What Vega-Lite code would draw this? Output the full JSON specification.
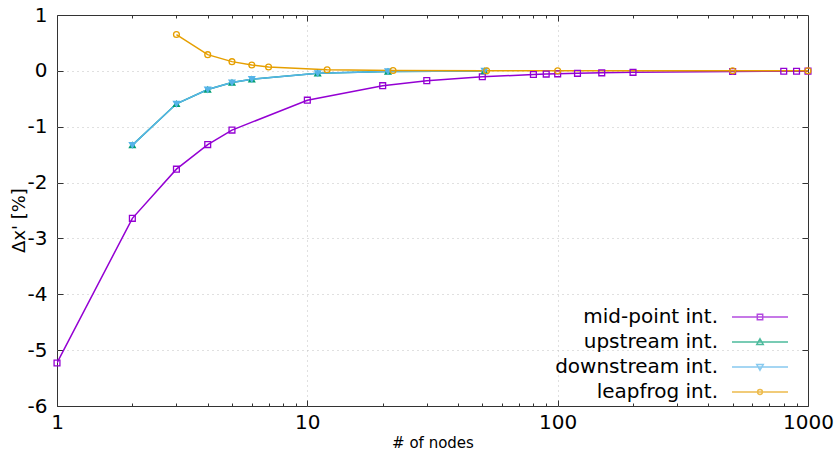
{
  "$schema": "https://vega.github.io/schema/vega-lite/v6.json",
  "width": 751,
  "height": 391,
  "autosize": {"type": "none"},
  "padding": {"left": 57, "top": 15, "right": 28, "bottom": 44},
  "background": "white",
  "config": {
    "font": "DejaVu Sans",
    "view": {"stroke": "#333333", "strokeWidth": 1},
    "axis": {
      "domain": false,
      "tickColor": "#333333",
      "tickWidth": 1,
      "labelColor": "#000000",
      "labelFontSize": 20,
      "labelFont": "DejaVu Sans",
      "titleColor": "#000000",
      "titleFont": "DejaVu Sans",
      "titleFontWeight": "normal",
      "gridColor": "#c0c0c0",
      "gridDash": [1, 4],
      "gridWidth": 1
    }
  },
  "data": {
    "values": [
      {"method": "mid-point int.", "n": 1, "dx": -5.23},
      {"method": "mid-point int.", "n": 2, "dx": -2.64},
      {"method": "mid-point int.", "n": 3, "dx": -1.76},
      {"method": "mid-point int.", "n": 4, "dx": -1.32},
      {"method": "mid-point int.", "n": 5, "dx": -1.06},
      {"method": "mid-point int.", "n": 10, "dx": -0.525},
      {"method": "mid-point int.", "n": 20, "dx": -0.265},
      {"method": "mid-point int.", "n": 30, "dx": -0.175},
      {"method": "mid-point int.", "n": 50, "dx": -0.105},
      {"method": "mid-point int.", "n": 80, "dx": -0.066},
      {"method": "mid-point int.", "n": 90, "dx": -0.058},
      {"method": "mid-point int.", "n": 100, "dx": -0.053},
      {"method": "mid-point int.", "n": 120, "dx": -0.044},
      {"method": "mid-point int.", "n": 150, "dx": -0.035},
      {"method": "mid-point int.", "n": 200, "dx": -0.026},
      {"method": "mid-point int.", "n": 500, "dx": -0.011},
      {"method": "mid-point int.", "n": 800, "dx": -0.007},
      {"method": "mid-point int.", "n": 900, "dx": -0.006},
      {"method": "mid-point int.", "n": 1000, "dx": -0.005},
      {"method": "upstream int.", "n": 2, "dx": -1.33},
      {"method": "upstream int.", "n": 3, "dx": -0.59},
      {"method": "upstream int.", "n": 4, "dx": -0.335},
      {"method": "upstream int.", "n": 5, "dx": -0.21},
      {"method": "upstream int.", "n": 6, "dx": -0.15},
      {"method": "upstream int.", "n": 11, "dx": -0.044},
      {"method": "upstream int.", "n": 21, "dx": -0.012},
      {"method": "upstream int.", "n": 51, "dx": -0.002},
      {"method": "downstream int.", "n": 2, "dx": -1.33},
      {"method": "downstream int.", "n": 3, "dx": -0.59},
      {"method": "downstream int.", "n": 4, "dx": -0.335},
      {"method": "downstream int.", "n": 5, "dx": -0.21},
      {"method": "downstream int.", "n": 6, "dx": -0.15},
      {"method": "downstream int.", "n": 11, "dx": -0.044},
      {"method": "downstream int.", "n": 21, "dx": -0.012},
      {"method": "downstream int.", "n": 51, "dx": -0.002},
      {"method": "leapfrog int.", "n": 3, "dx": 0.65},
      {"method": "leapfrog int.", "n": 4, "dx": 0.29},
      {"method": "leapfrog int.", "n": 5, "dx": 0.165},
      {"method": "leapfrog int.", "n": 6, "dx": 0.105},
      {"method": "leapfrog int.", "n": 7, "dx": 0.07},
      {"method": "leapfrog int.", "n": 12, "dx": 0.02},
      {"method": "leapfrog int.", "n": 22, "dx": 0.006},
      {"method": "leapfrog int.", "n": 52, "dx": 0.001},
      {"method": "leapfrog int.", "n": 100, "dx": 0.0003},
      {"method": "leapfrog int.", "n": 500, "dx": 0.0},
      {"method": "leapfrog int.", "n": 1000, "dx": 0.0}
    ]
  },
  "layer": [
    {
      "mark": {"type": "line", "strokeWidth": 1.5, "clip": true},
      "encoding": {
        "x": {
          "field": "n",
          "type": "quantitative",
          "scale": {"type": "log", "domain": [1, 1000], "nice": false},
          "axis": {
            "orient": "bottom",
            "title": "# of nodes",
            "titleFontSize": 15,
            "titleX": 375.5,
            "titleY": 36,
            "titleBaseline": "middle",
            "values": [1, 2, 3, 4, 5, 6, 7, 8, 9, 10, 20, 30, 40, 50, 60, 70, 80, 90, 100, 200, 300, 400, 500, 600, 700, 800, 900, 1000],
            "labelExpr": "indexof([1, 10, 100, 1000], datum.value) >= 0 ? toString(datum.value) : ''",
            "labelPadding": 12,
            "labelFlush": false,
            "labelOverlap": false,
            "tickSize": {"condition": {"test": "indexof([1, 10, 100, 1000], datum.value) >= 0", "value": -6}, "value": -3},
            "grid": true,
            "gridOpacity": {"condition": {"test": "indexof([10, 100], datum.value) >= 0", "value": 1}, "value": 0}
          }
        },
        "y": {
          "field": "dx",
          "type": "quantitative",
          "scale": {"domain": [-6, 1], "nice": false, "zero": false},
          "axis": {
            "orient": "left",
            "title": "Δx' [%]",
            "titleFontSize": 18,
            "titleX": -38,
            "titleY": 205,
            "titleAngle": 270,
            "titleAlign": "center",
            "titleBaseline": "middle",
            "values": [-6, -5, -4, -3, -2, -1, 0, 1],
            "labelExpr": "toString(datum.value)",
            "tickSize": -6,
            "labelPadding": 16,
            "grid": true,
            "gridOpacity": {"condition": {"test": "datum.value > -6 && datum.value < 1", "value": 1}, "value": 0}
          }
        },
        "color": {
          "field": "method",
          "type": "nominal",
          "scale": {
            "domain": ["mid-point int.", "upstream int.", "downstream int.", "leapfrog int."],
            "range": ["#9400d3", "#009e73", "#56b4e9", "#e69f00"]
          },
          "legend": null
        }
      }
    },
    {
      "mark": {"type": "point", "filled": true, "size": 34, "strokeWidth": 1.3, "opacity": 1},
      "encoding": {
        "x": {
          "field": "n",
          "type": "quantitative",
          "scale": {"type": "log", "domain": [1, 1000], "nice": false},
          "axis": {
            "orient": "top",
            "title": null,
            "labels": false,
            "values": [2, 3, 4, 5, 6, 7, 8, 9, 10, 20, 30, 40, 50, 60, 70, 80, 90, 100, 200, 300, 400, 500, 600, 700, 800, 900],
            "tickSize": {"condition": {"test": "indexof([10, 100], datum.value) >= 0", "value": -6}, "value": -3},
            "grid": false
          }
        },
        "y": {
          "field": "dx",
          "type": "quantitative",
          "scale": {"domain": [-6, 1], "nice": false, "zero": false},
          "axis": {
            "orient": "right",
            "title": null,
            "labels": false,
            "values": [-5, -4, -3, -2, -1, 0],
            "tickSize": -6,
            "grid": false
          }
        },
        "stroke": {
          "field": "method",
          "type": "nominal",
          "scale": {
            "domain": ["mid-point int.", "upstream int.", "downstream int.", "leapfrog int."],
            "range": ["#9400d3", "#009e73", "#56b4e9", "#e69f00"]
          },
          "legend": null
        },
        "fill": {
          "field": "method",
          "type": "nominal",
          "scale": {
            "domain": ["mid-point int.", "upstream int.", "downstream int.", "leapfrog int."],
            "range": ["transparent", "#009e73", "#56b4e9", "transparent"]
          },
          "legend": null
        },
        "shape": {
          "field": "method",
          "type": "nominal",
          "scale": {
            "domain": ["mid-point int.", "upstream int.", "downstream int.", "leapfrog int."],
            "range": ["square", "triangle-up", "triangle-down", "circle"]
          },
          "legend": null
        }
      }
    },
    {
      "mark": {"type": "point", "filled": false, "size": 0, "strokeWidth": 1.5},
      "encoding": {
        "x": {"field": "n", "type": "quantitative", "scale": {"type": "log", "domain": [1, 1000], "nice": false}, "axis": null},
        "y": {"field": "dx", "type": "quantitative", "scale": {"domain": [-6, 1], "nice": false, "zero": false}, "axis": null},
        "color": {
          "field": "method",
          "type": "nominal",
          "scale": {
            "domain": ["mid-point int.", "upstream int.", "downstream int.", "leapfrog int."],
            "range": ["#9400d3", "#009e73", "#56b4e9", "#e69f00"]
          },
          "legend": {
            "orient": "none",
            "legendX": 692,
            "legendY": 291,
            "title": null,
            "padding": 0,
            "symbolSize": 400,
            "symbolStrokeWidth": 1.5,
            "labelOffset": -53,
            "labelAlign": "right",
            "labelBaseline": "middle",
            "labelFontSize": 20,
            "labelFont": "DejaVu Sans",
            "labelColor": "#000000",
            "labelLimit": 0,
            "rowPadding": 4
          }
        },
        "shape": {
          "field": "method",
          "type": "nominal",
          "scale": {
            "domain": ["mid-point int.", "upstream int.", "downstream int.", "leapfrog int."],
            "range": [
              "M-2.8,0H2.8M-0.27,-0.27H0.27V0.27H-0.27Z",
              "M-2.8,0H2.8M0,-0.32L0.32,0.24L-0.32,0.24Z",
              "M-2.8,0H2.8M0,0.32L0.32,-0.24L-0.32,-0.24Z",
              "M-2.8,0H2.8M0.24,0A0.24,0.24,0,1,1,-0.24,0A0.24,0.24,0,1,1,0.24,0Z"
            ]
          }
        }
      }
    }
  ],
  "resolve": {
    "scale": {"color": "independent", "shape": "independent", "fill": "independent", "stroke": "independent"},
    "axis": {"x": "independent", "y": "independent"}
  }
}
